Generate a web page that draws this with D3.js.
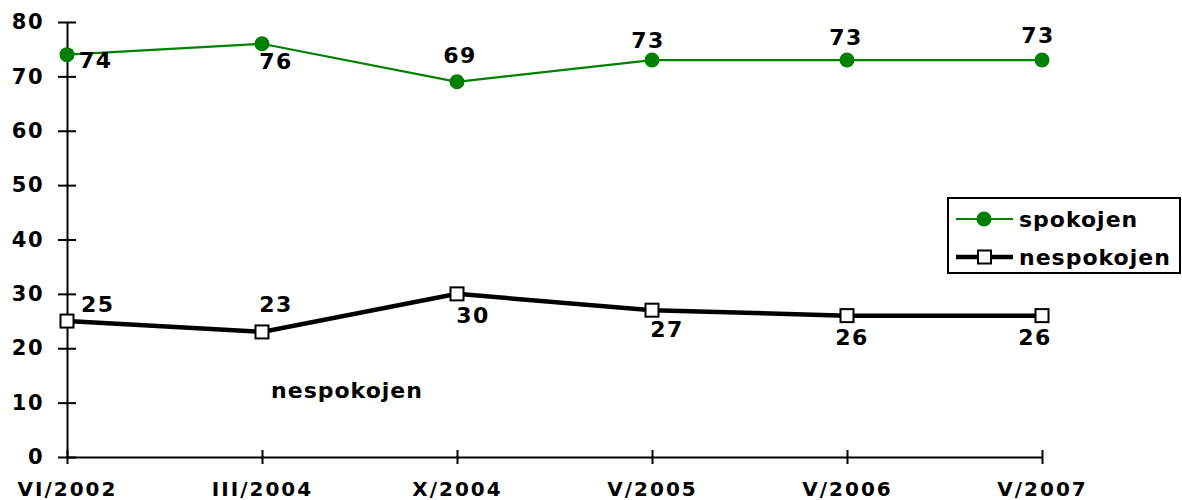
<!DOCTYPE html>
<html>
<head>
<meta charset="utf-8">
<script src="https://cdn.jsdelivr.net/npm/d3@7/dist/d3.min.js"></script>
<style>
  html, body { margin: 0; padding: 0; background: #fff; }
  svg { display: block; }
  text { font-family: "DejaVu Sans", Verdana, sans-serif; font-weight: bold; fill: #000; }
</style>
</head>
<body>
<svg id="chart" width="1182" height="500"></svg>
<script>
// ---- data ----
const categories = ["VI/2002", "III/2004", "X/2004", "V/2005", "V/2006", "V/2007"];
const spokojen = [74, 76, 69, 73, 73, 73];
const nespokojen = [25, 23, 30, 27, 26, 26];
const yTicks = [0, 10, 20, 30, 40, 50, 60, 70, 80];
const seriesNames = ["spokojen", "nespokojen"];
const annotationText = "nespokojen";

// ---- label placement (layout only) ----
const spokLabelOffsets = [[12, 13, "start"], [14, 25, "middle"], [3, -19, "middle"], [-4, -12, "middle"], [-1, -15, "middle"], [-4, -17, "middle"]];
const nespLabelOffsets = [[14, -9, "start"], [14, -20, "middle"], [16, 29, "middle"], [15, 27, "middle"], [5, 29, "middle"], [-7, 29, "middle"]];

const svg = d3.select("#chart");
const x = d3.scalePoint().domain(categories).range([67, 1042]);
const y = d3.scaleLinear().domain([0, 80]).range([457, 22]);

// axes
const yAxis = d3.axisLeft(y).tickValues(yTicks).tickSizeInner(9).tickSizeOuter(0).tickPadding(14);
const gy = svg.append("g").attr("transform", "translate(67,0)").call(yAxis);
gy.select(".domain").attr("stroke", "#000").attr("stroke-width", 2);
gy.selectAll(".tick line").attr("stroke", "#000").attr("stroke-width", 2).attr("x1", 9);
gy.selectAll(".tick text").style("font-size", "21px").style("letter-spacing", "1.5px")
  .style("font-family", "DejaVu Sans").style("font-weight", "bold").attr("fill", "#000");

const xAxis = d3.axisBottom(x).tickSizeInner(7).tickSizeOuter(0).tickPadding(18);
const gx = svg.append("g").attr("transform", "translate(0,457)").call(xAxis);
gx.select(".domain").attr("stroke", "#000").attr("stroke-width", 2);
gx.selectAll(".tick line").attr("stroke", "#000").attr("stroke-width", 2).attr("y1", -7);
gx.selectAll(".tick text").style("font-size", "20px").style("letter-spacing", "2px")
  .style("font-family", "DejaVu Sans").style("font-weight", "bold").attr("fill", "#000");

const green = "#008000";

const line = d3.line().x((d, i) => x(categories[i])).y(d => y(d));
svg.append("path").datum(spokojen).attr("d", line)
  .attr("fill", "none").attr("stroke", green).attr("stroke-width", 2.2);
svg.append("path").datum(nespokojen).attr("d", line)
  .attr("fill", "none").attr("stroke", "#000").attr("stroke-width", 4.5);

svg.append("g").selectAll("circle").data(spokojen).join("circle")
  .attr("cx", (d, i) => x(categories[i])).attr("cy", d => y(d)).attr("r", 7.5)
  .attr("fill", green);

svg.append("g").selectAll("rect").data(nespokojen).join("rect")
  .attr("x", (d, i) => x(categories[i]) - 6.5).attr("y", d => y(d) - 6.5)
  .attr("width", 13).attr("height", 13)
  .attr("fill", "#fff").attr("stroke", "#000").attr("stroke-width", 2);

// value labels
svg.append("g").selectAll("text").data(spokojen).join("text")
  .attr("x", (d, i) => x(categories[i]) + spokLabelOffsets[i][0])
  .attr("y", (d, i) => y(d) + spokLabelOffsets[i][1])
  .attr("text-anchor", (d, i) => spokLabelOffsets[i][2])
  .style("font-size", "22px").style("letter-spacing", "1.5px")
  .text(d => d);
svg.append("g").selectAll("text").data(nespokojen).join("text")
  .attr("x", (d, i) => x(categories[i]) + nespLabelOffsets[i][0])
  .attr("y", (d, i) => y(d) + nespLabelOffsets[i][1])
  .attr("text-anchor", (d, i) => nespLabelOffsets[i][2])
  .style("font-size", "22px").style("letter-spacing", "1.5px")
  .text(d => d);

// free annotation
svg.append("text").attr("x", 347).attr("y", 398).attr("text-anchor", "middle")
  .style("font-size", "22px").style("letter-spacing", "1px").text(annotationText);

// legend
const lg = svg.append("g");
lg.append("rect").attr("x", 948).attr("y", 198).attr("width", 232).attr("height", 75)
  .attr("fill", "#fff").attr("stroke", "#000").attr("stroke-width", 2);
const rows = [219, 257];
lg.append("line").attr("x1", 956).attr("x2", 1013).attr("y1", rows[0]).attr("y2", rows[0])
  .attr("stroke", green).attr("stroke-width", 2.2);
lg.append("circle").attr("cx", 984).attr("cy", rows[0]).attr("r", 7.5).attr("fill", green);
lg.append("line").attr("x1", 956).attr("x2", 1013).attr("y1", rows[1]).attr("y2", rows[1])
  .attr("stroke", "#000").attr("stroke-width", 4.5);
lg.append("rect").attr("x", 978).attr("y", rows[1] - 6.5).attr("width", 13).attr("height", 13)
  .attr("fill", "#fff").attr("stroke", "#000").attr("stroke-width", 2);
lg.selectAll("text.lt").data(seriesNames).join("text").attr("class", "lt")
  .attr("x", 1019).attr("y", (d, i) => rows[i] + 8)
  .style("font-size", "22px").style("letter-spacing", "1px").text(d => d);
</script>
</body>
</html>
